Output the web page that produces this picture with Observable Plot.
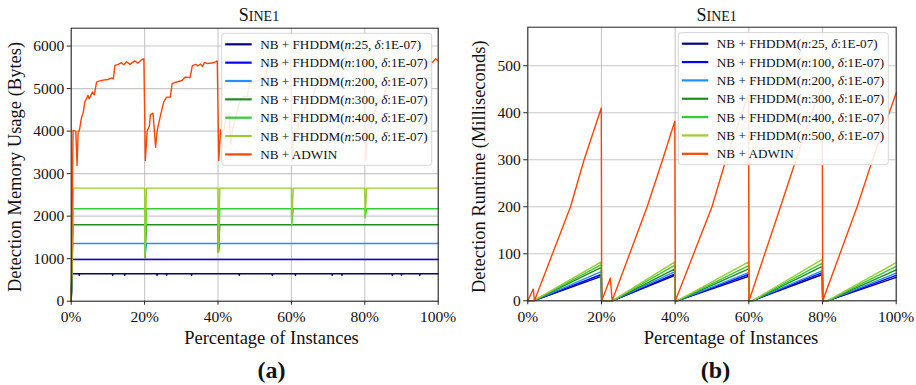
<!DOCTYPE html>
<html><head><meta charset="utf-8">
<script src="https://cdn.jsdelivr.net/npm/d3@7"></script>
<script src="https://cdn.jsdelivr.net/npm/@observablehq/plot@0.6"></script>
<style>
body{margin:0;background:#fff;}
#wrap{position:relative;width:916px;height:385px;background:#fff;}
#wrap svg{position:absolute;top:0;}
</style></head><body><div id="wrap"></div>
<script>
// ---------- shared ----------
const seriesNames = ["n25","n100","n200","n300","n400","n500","adwin"];
const windowSizes = ["25","100","200","300","400","500"];
const seriesColors = ["navy","blue","dodgerblue","forestgreen","limegreen","yellowgreen","orangered"];
const xTicks = [0,20,40,60,80,100];
const titleText = "Sine1";
const xLabelText = "Percentage of Instances";

// ---------- (a) memory ----------
const memYTicks = [0,1000,2000,3000,4000,5000,6000];
const memLevels = [645, 981, 1357, 1797, 2174, 2659];
const memRampEnd = [0.3, 0.3, 0.4, 0.5, 0.5, 0.6];
const driftPoints = [20, 40, 60, 80];
const memDipFloor = [1040, 1150, 1805, 1965];
const navyBlipX = [2.2, 11.3, 14.6, 23.4, 26, 32.8, 45.8, 54.8, 61.1, 71.1, 73.8, 87.5, 90, 95];
const navyBlipY = 610;
const adwinMemX = [0,0.5,1.25,1.6,1.9,2.2,2.8,3.3,3.7,4.6,4.9,5.8,6.3,6.9,7.8,8.7,10.1,11,11.5,11.9,12.8,13.7,14.3,15.1,16,17.3,18.2,19.2,19.8,
  20.2,20.7,21.3,21.6,22.3,23,23.4,24.3,25.2,26,27,27.5,28.5,30.2,31.1,32.4,33,34,34.5,35.2,35.8,36.3,37.2,38.3,39.3,39.8,
  40.2,40.7,41.5,42.3,43,43.5,44,45,46,47,48,48.5,50,52,53,53.5,55,56,57,58,59.8,
  60.2,60.7,61.5,62.3,63.5,64.5,66,67,69,71,72.5,74,76,77.5,78.5,79.8,
  80.2,80.7,81.5,82.5,83.5,85,86.5,88.5,90.5,92,94,96,97.5,98.5,99.3,100];
const adwinMemY = [0,4016,4000,3193,4000,4000,4315,4447,4682,4840,4760,4918,4850,5153,5180,5200,5215,5250,5230,5546,5570,5610,5560,5630,5570,5650,5600,5680,5700,
  3310,4000,4120,4390,4420,3620,4000,4360,4680,4800,4800,5115,5150,5190,5270,5260,5540,5570,5530,5580,5520,5610,5590,5600,5630,5650,
  3310,4030,4000,4350,4400,3700,4050,4400,4700,4820,4800,5120,5170,5220,5260,5540,5580,5600,5560,5640,5680,
  3300,4000,3950,4300,4500,4750,4850,5150,5200,5240,5520,5590,5600,5560,5640,5690,
  3300,4000,4050,4400,4650,4800,5150,5200,5260,5550,5600,5580,5640,5620,5700,5650];

// ---------- (b) runtime ----------
const runYTicks = [0,100,200,300,400,500];
const fhddmRunStart = [1.5, 22.9, 40.5, 60.9, 81.3];
const segEnd = [20, 40, 60, 80, 100];
const fhddmRunEndValues = [
  [52, 54, 52, 56, 50],
  [56, 57, 56, 60, 54],
  [62, 62, 60, 64, 59],
  [71, 68, 68, 73, 66],
  [77, 76, 75, 80, 73],
  [83, 83, 83, 88, 81]
];
const adwinRunX = [0,1.5,1.8,11.6,15.2,19.95,20.05,22.4,22.9,32.4,36.5,39.9,40.05,50,53.7,59.9,60.05,68.6,72.7,79.9,80.05,89.4,93.5,100];
const adwinRunY = [0,25,0,200,298,410,0,48,0,200,298,382,0,200,298,440,0,200,298,462,0,200,298,442];

// ---------- build tables ----------
const memRows = [];
memLevels.forEach((lvl, i) => {
  const s = seriesNames[i];
  const pts = [[0,0],[memRampEnd[i], lvl]];
  const events = [];
  driftPoints.forEach((d, k) => { if (memDipFloor[k] < lvl) events.push([d, [[d, lvl],[d+0.1, memDipFloor[k]],[d+0.5, lvl]]]); });
  if (i === 0) navyBlipX.forEach(b => events.push([b, [[b-0.1, lvl],[b, navyBlipY],[b+0.1, lvl]]]));
  events.sort((a,b) => a[0]-b[0]).forEach(e => pts.push(...e[1]));
  pts.push([100, lvl]);
  pts.forEach(([x,y]) => memRows.push({series: s, x, y}));
});
adwinMemX.forEach((x, j) => memRows.push({series: "adwin", x, y: adwinMemY[j]}));

const runRows = [];
fhddmRunEndValues.forEach((vals, i) => {
  const s = seriesNames[i];
  runRows.push({series: s, x: 0, y: 0});
  vals.forEach((v, k) => {
    runRows.push({series: s, x: fhddmRunStart[k], y: 0});
    runRows.push({series: s, x: segEnd[k] - (k < 4 ? 0.05 : 0), y: v});
    if (k < 4) runRows.push({series: s, x: segEnd[k] + 0.05, y: 0});
  });
});
adwinRunX.forEach((x, j) => runRows.push({series: "adwin", x, y: adwinRunY[j]}));

const FONT = "Liberation Serif, Times New Roman, serif";

function panel(opts) {
  const svg = Plot.plot({
    width: 458, height: 385,
    marginLeft: opts.ml, marginRight: opts.mr, marginTop: opts.mt, marginBottom: opts.mb,
    style: {fontFamily: FONT, fontSize: "15.5px", color: "#111", background: "transparent", overflow: "visible"},
    x: {domain: [0,100], label: null},
    y: {domain: opts.yDomain, label: null},
    color: {domain: seriesNames, range: seriesColors},
    marks: [
      Plot.gridX(xTicks, {stroke: "#b0b0b0", strokeOpacity: 0.7, strokeWidth: 1.1}),
      Plot.gridY(opts.yTicks, {stroke: "#b0b0b0", strokeOpacity: 0.7, strokeWidth: 1.1}),
      Plot.line(opts.rows, {x: "x", y: "y", z: "series", stroke: "series", strokeWidth: 1.4}),
      Plot.axisX(xTicks, {tickFormat: d => d + "%", tickSize: 4, tickPadding: 6, fontSize: 15.5, stroke: "#222"}),
      Plot.axisY(opts.yTicks, {tickFormat: d => String(d), tickSize: 4, tickPadding: 3, fontSize: 15.5, stroke: "#222"}),
      Plot.frame({stroke: "#222", strokeWidth: 1})
    ]
  });
  svg.style.left = opts.left + "px";
  const g = d3.select(svg);
  // legend
  const lg = g.append("g").attr("font-family", FONT).attr("font-size", 13.2).attr("text-anchor", "start");
  lg.append("rect").attr("x", opts.lgx).attr("y", opts.lgy).attr("width", 210).attr("height", 132)
    .attr("rx", 3).attr("fill", "white").attr("fill-opacity", 0.88).attr("stroke", "#d6d6d6").attr("stroke-width", 1);
  seriesNames.forEach((s, i) => {
    const yy = opts.lgy + 11 + i * 18.35;
    lg.append("line").attr("x1", opts.lgx + 3.5).attr("x2", opts.lgx + 30).attr("y1", yy).attr("y2", yy)
      .attr("stroke", seriesColors[i]).attr("stroke-width", 2.2);
    const t = lg.append("text").attr("x", opts.lgx + 38.5).attr("y", yy).attr("dy", "0.35em")
      .attr("text-anchor", "start").attr("fill", "#111");
    if (i < 6) {
      t.append("tspan").text("NB + FHDDM(");
      t.append("tspan").attr("font-style", "italic").text("n");
      t.append("tspan").text(":" + windowSizes[i] + ", ");
      t.append("tspan").attr("font-style", "italic").text("δ");
      t.append("tspan").text(":1E-07)");
    } else {
      t.text("NB + ADWIN");
    }
  });
  // texts
  const tt = g.append("text").attr("x", opts.titleX).attr("y", 20.5).attr("text-anchor", "middle")
    .attr("font-family", FONT).attr("font-size", 18).attr("fill", "#111");
  tt.append("tspan").text(titleText[0]);
  tt.append("tspan").attr("font-size", 14).text(titleText.slice(1).toUpperCase());
  g.append("text").attr("x", opts.xlabX).attr("y", 343.5).attr("text-anchor", "middle")
    .attr("font-family", FONT).attr("font-size", 18.5).attr("fill", "#111").text(xLabelText);
  g.append("text").attr("transform", `translate(${opts.ylabX},${opts.ylabY}) rotate(-90)`).attr("text-anchor", "middle")
    .attr("dy", "0.35em").attr("font-family", FONT).attr("font-size", 18.5).attr("fill", "#111").text(opts.yLabel);
  g.append("text").attr("x", opts.capX).attr("y", 378).attr("text-anchor", "middle")
    .attr("font-family", FONT).attr("font-size", 24).attr("font-weight", "bold").attr("fill", "#111").text(opts.caption);
  return svg;
}

const wrap = document.getElementById("wrap");
wrap.appendChild(panel({
  left: 0, ml: 70.7, mr: 20.3, mt: 27.7, mb: 84.3, yDomain: [0, 6420], yTicks: memYTicks, rows: memRows,
  lgx: 221.7, lgy: 33.3, titleX: 259, xlabX: 271.5, ylabX: 15, ylabY: 167,
  yLabel: "Detection Memory Usage (Bytes)", capX: 271.5, caption: "(a)"
}));
wrap.appendChild(panel({
  left: 458, ml: 69.3, mr: 20.3, mt: 26.7, mb: 84.7, yDomain: [0, 582], yTicks: runYTicks, rows: runRows,
  lgx: 220.3, lgy: 32.7, titleX: 258.7, xlabX: 273, ylabX: 20.3, ylabY: 166.7,
  yLabel: "Detection Runtime (Milliseconds)", capX: 257.5, caption: "(b)"
}));
</script></body></html>
